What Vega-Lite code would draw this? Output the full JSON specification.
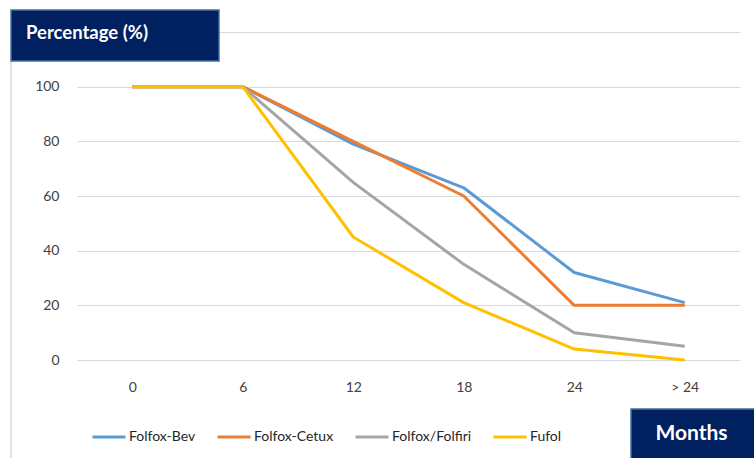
{
  "$schema": "https://vega.github.io/schema/vega-lite/v6.json",
  "width": 663,
  "height": 328,
  "autosize": "none",
  "padding": {"left": 77, "top": 32, "right": 14, "bottom": 98},
  "background": "white",
  "config": {
    "view": {"stroke": null},
    "font": "Lato",
    "axis": {"gridColor": "#d9d9d9", "gridWidth": 1, "labelColor": "#404040", "labelFontSize": 14, "ticks": false, "domain": false, "title": null},
    "axisX": {"grid": false, "labelAngle": 0, "labelPadding": 20},
    "axisY": {"labelPadding": 18},
    "legend": {"orient": "none", "legendX": 14, "legendY": 387, "direction": "horizontal", "symbolType": "stroke", "symbolSize": 1089, "symbolStrokeWidth": 3, "labelFontSize": 14, "labelColor": "#262626", "columnPadding": 15, "labelOffset": 2, "title": null}
  },
  "datasets": {
    "survival": [
      {"month": "0", "series": "Folfox-Bev", "value": 100},
      {"month": "6", "series": "Folfox-Bev", "value": 100},
      {"month": "12", "series": "Folfox-Bev", "value": 79},
      {"month": "18", "series": "Folfox-Bev", "value": 63},
      {"month": "24", "series": "Folfox-Bev", "value": 32},
      {"month": "> 24", "series": "Folfox-Bev", "value": 21},
      {"month": "0", "series": "Folfox-Cetux", "value": 100},
      {"month": "6", "series": "Folfox-Cetux", "value": 100},
      {"month": "12", "series": "Folfox-Cetux", "value": 80},
      {"month": "18", "series": "Folfox-Cetux", "value": 60},
      {"month": "24", "series": "Folfox-Cetux", "value": 20},
      {"month": "> 24", "series": "Folfox-Cetux", "value": 20},
      {"month": "0", "series": "Folfox/Folfiri", "value": 100},
      {"month": "6", "series": "Folfox/Folfiri", "value": 100},
      {"month": "12", "series": "Folfox/Folfiri", "value": 65},
      {"month": "18", "series": "Folfox/Folfiri", "value": 35},
      {"month": "24", "series": "Folfox/Folfiri", "value": 10},
      {"month": "> 24", "series": "Folfox/Folfiri", "value": 5},
      {"month": "0", "series": "Fufol", "value": 100},
      {"month": "6", "series": "Fufol", "value": 100},
      {"month": "12", "series": "Fufol", "value": 45},
      {"month": "18", "series": "Fufol", "value": 21},
      {"month": "24", "series": "Fufol", "value": 4},
      {"month": "> 24", "series": "Fufol", "value": 0}
    ]
  },
  "resolve": {"scale": {"x": "independent"}},
  "layer": [
    {
      "data": {"name": "survival"},
      "mark": {"type": "line", "strokeWidth": 3, "strokeJoin": "round"},
      "encoding": {
        "x": {"field": "month", "type": "nominal", "sort": ["0", "6", "12", "18", "24", "> 24"], "title": null},
        "y": {"field": "value", "type": "quantitative", "scale": {"domain": [0, 120], "nice": false}, "axis": {"values": [0, 20, 40, 60, 80, 100, 120], "labelExpr": "datum.value > 100 ? '' : datum.label"}, "title": null},
        "color": {"field": "series", "type": "nominal", "scale": {"domain": ["Folfox-Bev", "Folfox-Cetux", "Folfox/Folfiri", "Fufol"], "range": ["#5b9bd5", "#ed7d31", "#a5a5a5", "#ffc000"]}}
      }
    },
    {
      "layer": [
        {
          "data": {"values": [{"edge": "left border"}]},
          "mark": {"type": "rule", "color": "#d9d9d9", "strokeWidth": 1.5},
          "encoding": {
            "x": {"datum": -0.0995, "type": "quantitative", "scale": {"domain": [0, 1], "nice": false, "zero": false}, "axis": null},
            "y": {"datum": 109.4, "type": "quantitative", "scale": {"domain": [0, 120], "nice": false}},
            "y2": {"datum": -36}
          }
        },
        {
          "data": {"values": [{"label": "Percentage (%)"}]},
          "mark": {"type": "rect", "fill": "#002060", "stroke": "#41719c", "strokeWidth": 1.5},
          "encoding": {
            "x": {"datum": -0.0995, "type": "quantitative", "scale": {"domain": [0, 1], "nice": false, "zero": false}, "axis": null},
            "x2": {"datum": 0.2142},
            "y": {"datum": 128.05, "type": "quantitative", "scale": {"domain": [0, 120], "nice": false}},
            "y2": {"datum": 109.39}
          }
        },
        {
          "data": {"values": [{"label": "Months"}]},
          "mark": {"type": "rect", "fill": "#002060", "stroke": "#41719c", "strokeWidth": 1.5},
          "encoding": {
            "x": {"datum": 0.8356, "type": "quantitative", "scale": {"domain": [0, 1], "nice": false, "zero": false}, "axis": null},
            "x2": {"datum": 1.03},
            "y": {"datum": -17.93, "type": "quantitative", "scale": {"domain": [0, 120], "nice": false}},
            "y2": {"datum": -37}
          }
        },
        {
          "data": {"values": [{"label": "Percentage (%)"}]},
          "mark": {"type": "text", "align": "left", "baseline": "middle", "fontSize": 18.5, "fontWeight": "bold", "color": "white"},
          "encoding": {
            "x": {"datum": -0.0769, "type": "quantitative", "scale": {"domain": [0, 1], "nice": false, "zero": false}, "axis": null},
            "y": {"datum": 119.8, "type": "quantitative", "scale": {"domain": [0, 120], "nice": false}},
            "text": {"field": "label"}
          }
        },
        {
          "data": {"values": [{"label": "Months"}]},
          "mark": {"type": "text", "align": "center", "baseline": "middle", "fontSize": 21, "fontWeight": "bold", "color": "white"},
          "encoding": {
            "x": {"datum": 0.9268, "type": "quantitative", "scale": {"domain": [0, 1], "nice": false, "zero": false}, "axis": null},
            "y": {"datum": -27.07, "type": "quantitative", "scale": {"domain": [0, 120], "nice": false}},
            "text": {"field": "label"}
          }
        }
      ]
    }
  ]
}
